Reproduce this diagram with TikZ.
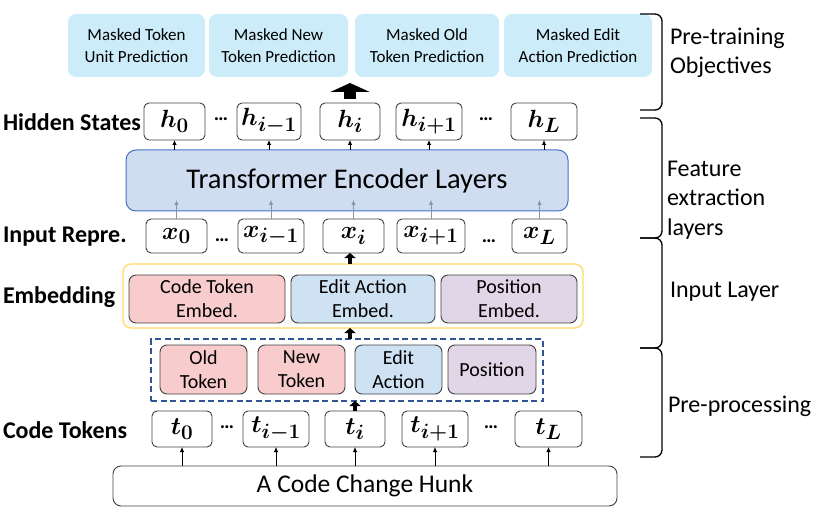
\documentclass[tikz,border=0pt]{standalone}
\usepackage{fontspec}
\setmainfont{Carlito}
\usepackage{amsmath}
\DeclareMathSizes{27}{27}{20}{15}
\usetikzlibrary{positioning, arrows.meta}

\definecolor{objblue}{RGB}{205,236,249}
\definecolor{tfblue}{RGB}{208,220,240}
\definecolor{tfborder}{RGB}{68,114,196}
\definecolor{tokred}{RGB}{248,204,204}
\definecolor{actblue}{RGB}{207,226,243}
\definecolor{pospurple}{RGB}{225,213,232}
\definecolor{embyellow}{RGB}{255,217,102}
\definecolor{predash}{RGB}{47,85,151}
\definecolor{boxline}{RGB}{64,64,64}
\definecolor{arrgray}{RGB}{132,151,176}

\begin{document}
\begin{tikzpicture}[
  x=1pt, y=-1pt,
  every node/.style = {inner sep=0pt, outer sep=0pt},
  obj/.style  = {fill=objblue, rounded corners=8pt, align=center, minimum height=63pt, font=\fontsize{17}{21.5}\selectfont},
  tok/.style  = {draw=boxline, line width=0.9pt, rounded corners=5pt, font=\fontsize{27}{27}\selectfont\boldmath},
  part/.style = {draw=boxline, line width=0.9pt, rounded corners=7pt, align=center, font=\fontsize{20}{24}\selectfont},
  lbl/.style  = {anchor=west, font=\fontsize{24}{28}\selectfont\bfseries},
  side/.style = {anchor=west, align=left, font=\fontsize{24}{29.5}\selectfont},
  dots/.style = {font=\fontsize{20}{20}\selectfont\bfseries},
  arr/.style  = {-{Latex[length=5pt,width=4.5pt]}, line width=0.8pt},
  garr/.style = {arr, draw=arrgray},
  blk/.style  = {-{Triangle[length=5pt,width=11pt]}, line width=4.5pt},
  brk/.style  = {line width=1.3pt, rounded corners=7pt}
]
\useasboundingbox (0,0) rectangle (830,513);

% Pre-training objectives
\node[obj, minimum width=137pt] (o1) at (136.5,45.5) {Masked Token\\Unit Prediction};
\node[obj, minimum width=139pt] (o2) at (278.5,45.5) {Masked New\\Token Prediction};
\node[obj, minimum width=144pt] (o3) at (427,45.5)   {Masked Old\\Token Prediction};
\node[obj, minimum width=148pt] (o4) at (578,45.5)   {Masked Edit\\Action Prediction};
\coordinate (otop) at (350,83);

% Hidden states
\node[lbl] (lh) at (3,122) {Hidden States};
\node[tok, minimum width=61pt, minimum height=37pt] (h0) at (174.5,121.5) {$h_{0}$};
\node[tok, minimum width=64pt, minimum height=37pt] (h1) at (269,121.5)   {$h_{i-1}$};
\node[tok, minimum width=60pt, minimum height=37pt] (hi) at (350,121.5)   {$h_{i}$};
\node[tok, minimum width=66pt, minimum height=37pt] (h2) at (429,121.5)   {$h_{i+1}$};
\node[tok, minimum width=66pt, minimum height=37pt] (hL) at (544,121.5)   {$h_{L}$};
\node[dots] (hd1) at (221,119) {…};
\node[dots] (hd2) at (486,119) {…};

% Transformer
\node[draw=tfborder, fill=tfblue, line width=1pt, rounded corners=10pt,
      minimum width=442pt, minimum height=61pt, font=\fontsize{28.5}{28.5}\selectfont]
      (tf) at (347,180.5) {Transformer Encoder Layers};

% Input representation
\node[lbl] (lx) at (3,237) {Input Repre.};
\node[tok, minimum width=61pt, minimum height=34pt] (x0) at (176.5,236) {$x_{0}$};
\node[tok, minimum width=66pt, minimum height=34pt] (x1) at (271,236)   {$x_{i-1}$};
\node[tok, minimum width=61pt, minimum height=34pt] (xi) at (353.5,236) {$x_{i}$};
\node[tok, minimum width=68pt, minimum height=34pt] (x2) at (431,236)   {$x_{i+1}$};
\node[tok, minimum width=55pt, minimum height=34pt] (xL) at (539.5,236) {$x_{L}$};
\node[dots] (xd1) at (222,240) {…};
\node[dots] (xd2) at (489,241) {…};

% Embedding
\node[lbl] (le) at (3,297) {Embedding};
\node[draw=embyellow, line width=1.3pt, rounded corners=8pt,
      minimum width=460pt, minimum height=64pt] (emb) at (353,296) {};
\node[part, fill=tokred,    minimum width=156pt, minimum height=48pt] (e1) at (207,299) {Code Token\\Embed.};
\node[part, fill=actblue,   minimum width=144pt, minimum height=48pt] (e2) at (363,299) {Edit Action\\Embed.};
\node[part, fill=pospurple, minimum width=136pt, minimum height=48pt] (e3) at (509,299) {Position\\Embed.};

% Pre-processing
\node[draw=predash, dashed, dash pattern=on 6pt off 3.5pt, line width=1.5pt,
      minimum width=392pt, minimum height=62pt] (pre) at (347,370) {};
\node[part, fill=tokred,    minimum width=87pt, minimum height=49pt] (p1) at (203.5,369.5) {Old\\Token};
\node[part, fill=tokred,    minimum width=87pt, minimum height=49pt] (p2) at (301.5,369.5) {New\\Token};
\node[part, fill=actblue,   minimum width=87pt, minimum height=49pt] (p3) at (398.5,369.5) {Edit\\Action};
\node[part, fill=pospurple, minimum width=88pt, minimum height=49pt] (p4) at (492,369.5)   {Position};

% Code tokens
\node[lbl] (lt) at (3,430) {Code Tokens};
\node[tok, minimum width=60pt, minimum height=36pt] (t0) at (182,429)   {$t_{0}$};
\node[tok, minimum width=66pt, minimum height=36pt] (t1) at (276,429)   {$t_{i-1}$};
\node[tok, minimum width=60pt, minimum height=36pt] (ti) at (355,429)   {$t_{i}$};
\node[tok, minimum width=66pt, minimum height=36pt] (t2) at (435,429)   {$t_{i+1}$};
\node[tok, minimum width=67pt, minimum height=36pt] (tL) at (548.5,429) {$t_{L}$};
\node[dots] (td1) at (227,427) {…};
\node[dots] (td2) at (491,427) {…};

% Hunk
\node[draw=boxline, line width=0.9pt, rounded corners=8pt, minimum width=504pt, minimum height=40pt,
      font=\fontsize{25.5}{25.5}\selectfont] (hunk) at (365,486) {A Code Change Hunk};

% Brackets and stage names
\draw[brk] (640,14)  -- (662,14)  -- (662,110) -- (640,110);
\draw[brk] (640,118) -- (662,118) -- (662,238) -- (640,238);
\draw[brk] (640,238) -- (662,238) -- (662,348) -- (640,348);
\draw[brk] (640,348) -- (662,348) -- (662,457) -- (640,457);
\node[side] (s1) at (670,53)  {Pre-training\\Objectives};
\node[side] (s2) at (667,200) {Feature\\extraction\\layers};
\node[side] (s3) at (670,292) {Input Layer};
\node[side] (s4) at (668,406) {Pre-processing};

% Hunk to tokens
\draw[arr] (hunk.north -| t0) -- (t0);
\draw[arr] (hunk.north -| t1) -- (t1);
\draw[arr] (hunk.north -| ti) -- (ti);
\draw[arr] (hunk.north -| t2) -- (t2);
\draw[arr] (hunk.north -| tL) -- (tL);

% Inputs into the encoder
\draw[garr, shorten >=-11pt] (x0) -- (x0 |- tf.south);
\draw[garr, shorten >=-11pt] (x1) -- (x1 |- tf.south);
\draw[garr, shorten >=-11pt] (xi) -- (xi |- tf.south);
\draw[garr, shorten >=-11pt] (x2) -- (x2 |- tf.south);
\draw[garr, shorten >=-11pt] (xL) -- (xL |- tf.south);

% Encoder to hidden states
\draw[arr] (tf.north -| h0) -- (h0);
\draw[arr] (tf.north -| h1) -- (h1);
\draw[arr] (tf.north -| hi) -- (hi);
\draw[arr] (tf.north -| h2) -- (h2);
\draw[arr] (tf.north -| hL) -- (hL);

% Block arrows
\draw[blk] (ti) -- (ti |- pre.south);
\draw[blk] (pre.north -| hi) -- (emb.south -| hi);
\draw[blk] (emb.north -| hi) -- (xi.south -| hi);
\draw[-{Triangle[length=9pt,width=39pt]}, line width=12pt, shorten <=4pt] (hi) -- (otop);

\end{tikzpicture}
\end{document}
